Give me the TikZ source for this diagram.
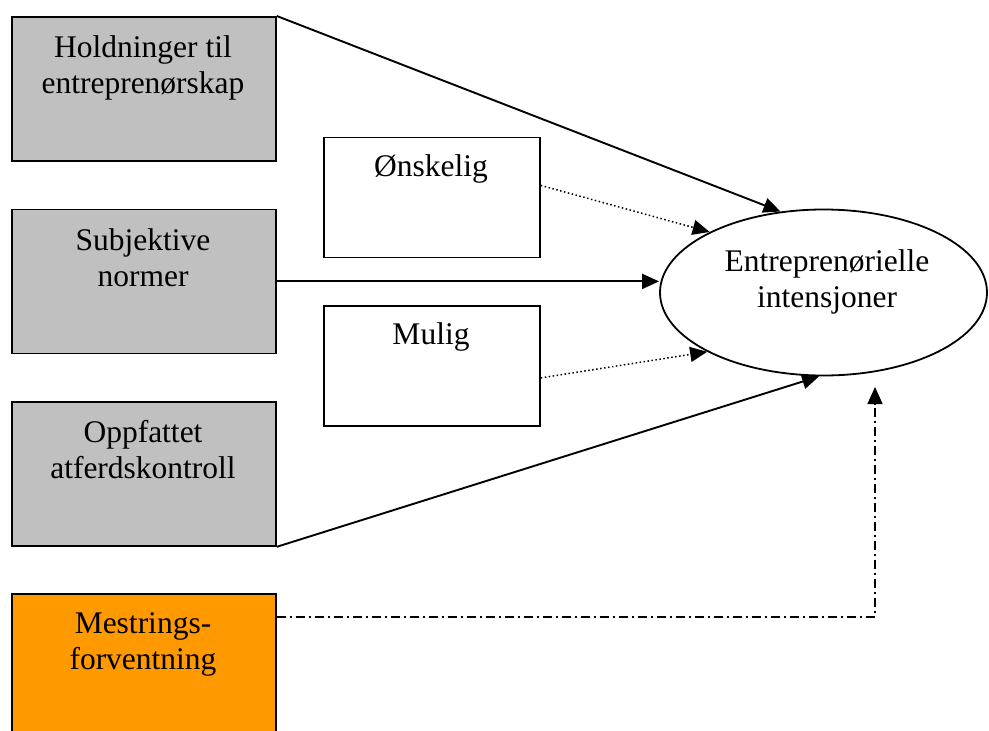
\documentclass[tikz,border=0pt]{standalone}
\usepackage{fontspec}
\setmainfont{Liberation Serif}
\usetikzlibrary{arrows.meta,shapes.geometric}
\definecolor{boxgray}{HTML}{C0C0C0}
\definecolor{boxorange}{HTML}{FF9900}
\begin{document}
\begin{tikzpicture}[x=1pt,y=-1pt,
  box/.style={draw=black,line width=1.8pt,rectangle,inner sep=0pt,anchor=north west},
  lbl/.style={anchor=north,inner sep=0pt,align=center,font=\fontsize{31.5}{36}\selectfont},
  tip/.style={-{Triangle[length=17pt,width=15pt]}},
  solidarrow/.style={tip,line width=1.9pt},
  dotarrow/.style={tip,line width=1.5pt,dash pattern=on 1.5pt off 2.5pt},
  dasharrow/.style={tip,line width=1.5pt,dash pattern=on 9pt off 4pt on 2pt off 4pt}]
\useasboundingbox (0,0) rectangle (989,731);
\clip (0,0) rectangle (989,731);
% boxes
\node[box,fill=boxgray,minimum width=264pt,minimum height=144pt] (hold) at (11,16) {};
\node[box,fill=boxgray,minimum width=264pt,minimum height=144pt] (subj) at (11,208.5) {};
\node[box,fill=boxgray,minimum width=264pt,minimum height=144pt] (oppf) at (11,401) {};
\node[box,fill=boxorange,minimum width=264pt,minimum height=142pt] (mest) at (11,593) {};
\node[box,fill=white,minimum width=216pt,minimum height=120pt] (ons) at (323,136.5) {};
\node[box,fill=white,minimum width=216pt,minimum height=120pt] (mul) at (323,305) {};
\node[draw=black,line width=1.8pt,ellipse,minimum width=327pt,minimum height=166pt,inner sep=0pt] (ent) at (823.5,292.5) {};
% texts
\node[lbl] (holdt) at (143,31.8) {\strut Holdninger til\\\strut entreprenørskap};
\node[lbl] (subjt) at (143,224.8) {\strut Subjektive\\\strut normer};
\node[lbl] (oppft) at (143,416.8) {\strut Oppfattet\\\strut atferdskontroll};
\node[lbl] (mestt) at (143,607.8) {\strut Mestrings-\\\strut forventning};
\node[lbl] (onst) at (431,150.8) {\strut Ønskelig};
\node[lbl] (mult) at (431,318.8) {\strut Mulig};
\node[lbl] (entt) at (827,245.8) {\strut Entreprenørielle\\\strut intensjoner};
% connectors
\coordinate (mtip) at (875,387);
\draw[solidarrow] (hold.north east) -- (ent.118.6);
\draw[dotarrow] ([yshift=12pt]ons.east) -- (ent.152.4);
\draw[solidarrow] (subj.east) -- (subj.east -| ent.west);
\draw[dotarrow] ([yshift=-12pt]mul.east) -- (ent.207.6);
\draw[solidarrow] (oppf.south east) -- (ent.267.6);
\draw[dasharrow] ([yshift=-24pt]mest.north east) -| (mtip);
\end{tikzpicture}
\end{document}
